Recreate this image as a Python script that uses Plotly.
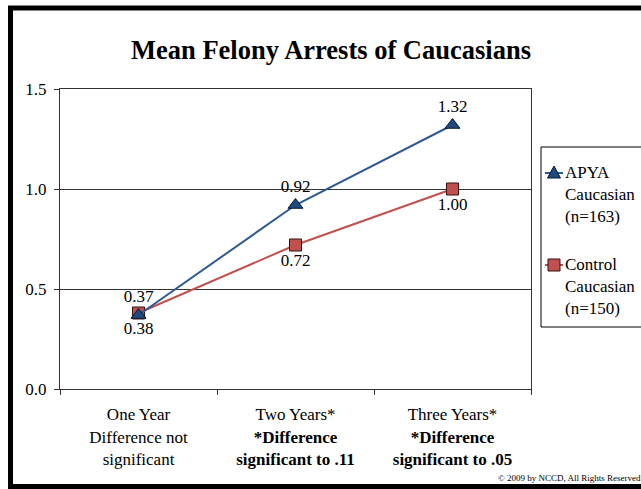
import plotly.graph_objects as go

categories = [
    "One Year<br>Difference not<br>significant",
    "Two Years*<br><b>*Difference<br>significant to .11</b>",
    "Three Years*<br><b>*Difference<br>significant to .05</b>",
]
apya = [0.37, 0.92, 1.32]
control = [0.38, 0.72, 1.00]
apya_labels = ["0.37", "0.92", "1.32"]
control_labels = ["0.38", "0.72", "1.00"]
y_ticks = [0.0, 0.5, 1.0, 1.5]
y_tick_text = ["0.0", "0.5", "1.0", "1.5"]
series_names = ["APYA<br>Caucasian<br>(n=163)", "Control<br>Caucasian<br>(n=150)"]

W, H = 641, 489
ML, MR, MT, MB = 60, 110, 89, 100
FONT = "Liberation Serif"
APYA_LINE, APYA_FILL, APYA_EDGE = "#2E5A94", "#1F497D", "#0a1a33"
CTRL_LINE, CTRL_FILL, CTRL_EDGE = "#C0504D", "#C0504D", "#3a1010"

def px(x):
    return (x - ML) / (W - ML - MR)

def py(y):
    return (H - MB - y) / (H - MT - MB)

fig = go.Figure()
fig.add_trace(go.Scatter(
    x=categories, y=control, mode="lines+markers+text",
    name=series_names[1],
    text=control_labels, textposition="bottom center",
    textfont=dict(family=FONT, size=17, color="#000"),
    line=dict(color=CTRL_LINE, width=2),
    marker=dict(symbol="square", size=12, color=CTRL_FILL, line=dict(color=CTRL_EDGE, width=1)),
))
fig.add_trace(go.Scatter(
    x=categories, y=apya, mode="lines+markers+text",
    name=series_names[0],
    text=apya_labels, textposition="top center",
    textfont=dict(family=FONT, size=17, color="#000"),
    line=dict(color=APYA_LINE, width=2),
    marker=dict(symbol="triangle-up", size=13, color=APYA_FILL, line=dict(color=APYA_EDGE, width=1)),
))

# outer frame
fig.add_shape(type="rect", xref="paper", yref="paper",
              x0=px(10.5), x1=px(660), y0=py(8), y1=py(486.5),
              line=dict(color="#000", width=5), layer="above")
# legend box
fig.add_shape(type="rect", xref="paper", yref="paper",
              x0=px(541), x1=px(660), y0=py(147), y1=py(327),
              line=dict(color="#000", width=1), fillcolor="rgba(0,0,0,0)")

# manual legend entries
legend_rows = [
    (series_names[0], 173, APYA_LINE, APYA_FILL, APYA_EDGE, "tri"),
    (series_names[1], 265, CTRL_LINE, CTRL_FILL, CTRL_EDGE, "sq"),
]
for name, yc, lc, fc, ec, kind in legend_rows:
    fig.add_shape(type="line", xref="paper", yref="paper",
                  x0=px(545), x1=px(563), y0=py(yc), y1=py(yc),
                  line=dict(color=lc, width=2))
    cx = 554
    if kind == "tri":
        path = "M {:.5f} {:.5f} L {:.5f} {:.5f} L {:.5f} {:.5f} Z".format(
            px(cx - 6.5), py(yc + 5), px(cx + 6.5), py(yc + 5), px(cx), py(yc - 7))
        fig.add_shape(type="path", xref="paper", yref="paper", path=path,
                      fillcolor=fc, line=dict(color=ec, width=1))
    else:
        fig.add_shape(type="rect", xref="paper", yref="paper",
                      x0=px(cx - 6), x1=px(cx + 6), y0=py(yc - 6), y1=py(yc + 6),
                      fillcolor=fc, line=dict(color=ec, width=1))
    fig.add_annotation(text=name, xref="paper", yref="paper",
                       x=px(563), y=py(yc - 12), xanchor="left", yanchor="top",
                       align="left", showarrow=False,
                       font=dict(family=FONT, size=17, color="#000"))

fig.add_annotation(text="© 2009 by NCCD, All Rights Reserved", xref="paper", yref="paper",
                   x=px(643), y=py(478), xanchor="right", yanchor="middle", showarrow=False,
                   font=dict(family=FONT, size=9, color="#000"))

fig.update_layout(
    width=W, height=H,
    margin=dict(l=ML, r=MR, t=MT, b=MB, autoexpand=False),
    paper_bgcolor="white", plot_bgcolor="white",
    title=dict(text="<b>Mean Felony Arrests of Caucasians</b>", xref="container", yref="container",
               x=331 / W, xanchor="center",
               y=1 - 50 / H, yanchor="middle", font=dict(family=FONT, size=26.5, color="#000")),
    font=dict(family=FONT, size=17, color="#000"),
    showlegend=False,
)
fig.update_xaxes(range=[-0.5, 2.5], showgrid=False, showline=True, linecolor="#333", linewidth=1,
                 mirror=True, ticks="outside", tickson="boundaries", ticklen=5, tickcolor="#333",
                 ticklabelstandoff=10,
                 tickfont=dict(family=FONT, size=17, color="#000"))
fig.update_yaxes(range=[0, 1.5], tickvals=y_ticks, ticktext=y_tick_text,
                 showgrid=True, gridcolor="#333", gridwidth=1,
                 showline=True, linecolor="#333", linewidth=1, mirror=True,
                 ticks="outside", ticklen=5, tickcolor="#333", zeroline=False,
                 ticklabelstandoff=4,
                 tickfont=dict(family=FONT, size=17, color="#000"))

fig.write_html("out.html")
